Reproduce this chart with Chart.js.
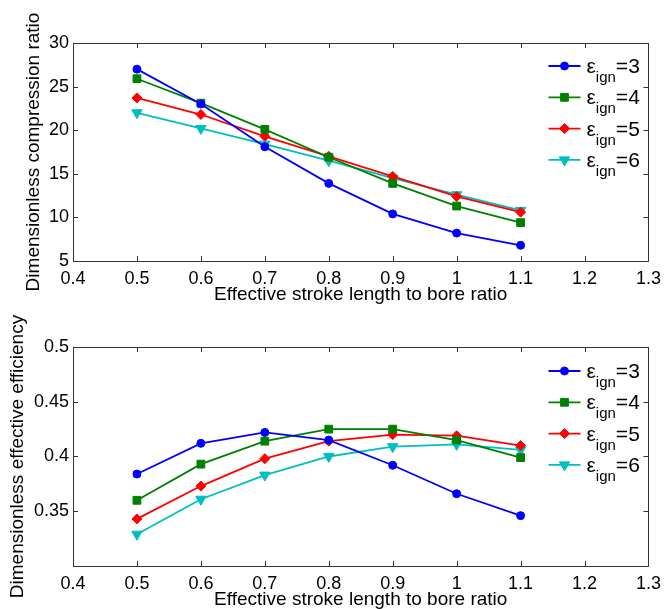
<!DOCTYPE html>
<html>
<head>
<meta charset="utf-8">
<script src="https://cdn.jsdelivr.net/npm/chart.js@4.4.0/dist/chart.umd.min.js"></script>
<style>
  body { margin: 0; background: #fff; }
  #wrap { position: relative; width: 668px; height: 609px; }
  #top-canvas { position: absolute; left: 0; top: 0; }
  #bottom-canvas { position: absolute; left: 0; top: 300px; }
</style>
</head>
<body>
<div id="wrap">
  <canvas id="top-canvas" width="668" height="310"></canvas>
  <canvas id="bottom-canvas" width="668" height="309"></canvas>
</div>
<script>
// stroke/bore ratio on the x axis
var strokeRatio = [0.5, 0.6, 0.7, 0.8, 0.9, 1.0, 1.1];
// eps_ign values of the four series
var epsIgn = ['3', '4', '5', '6'];

// top plot: dimensionless compression ratio
var compEps3 = [27.0, 23.0, 18.1, 13.9, 10.4, 8.2, 6.8];
var compEps4 = [25.9, 23.1, 20.1, 16.9, 13.9, 11.3, 9.4];
var compEps5 = [23.7, 21.8, 19.3, 17.0, 14.7, 12.4, 10.6];
var compEps6 = [22.0, 20.2, 18.4, 16.5, 14.5, 12.6, 10.8];

// bottom plot: dimensionless effective efficiency
var effEps3 = [0.384, 0.412, 0.422, 0.415, 0.392, 0.366, 0.346];
var effEps4 = [0.360, 0.393, 0.414, 0.425, 0.425, 0.415, 0.399];
var effEps5 = [0.343, 0.373, 0.398, 0.414, 0.420, 0.419, 0.410];
var effEps6 = [0.329, 0.361, 0.383, 0.400, 0.409, 0.411, 0.406];

var colors = ['#0000ff', '#008000', '#ff0000', '#00bfbf'];
var styles = [
  {pointStyle: 'circle', radius: 4, rotation: 0},
  {pointStyle: 'rect', radius: 5.5, rotation: 0},
  {pointStyle: 'rectRot', radius: 5, rotation: 0},
  {pointStyle: 'triangle', radius: 6, rotation: 180}
];
var fontFam = "'Liberation Sans', Arial, sans-serif";

function makeSets(seriesList) {
  return seriesList.map(function (vals, i) {
    return {
      label: epsIgn[i],
      data: vals.map(function (v, k) { return {x: strokeRatio[k], y: v}; }),
      borderColor: colors[i],
      backgroundColor: colors[i],
      borderWidth: 1.8,
      pointStyle: styles[i].pointStyle,
      pointRadius: styles[i].radius,
      pointRotation: styles[i].rotation,
      pointBorderWidth: 1,
      tension: 0
    };
  });
}

// box round the axes with inward ticks, like matlab
var framePlugin = {
  id: 'frame',
  afterDraw: function (chart) {
    var ctx = chart.ctx, a = chart.chartArea;
    var xs = chart.scales.x, ys = chart.scales.y;
    ctx.save();
    ctx.strokeStyle = '#333333';
    ctx.lineWidth = 1;
    ctx.beginPath();
    ctx.rect(Math.round(a.left) + 0.5, Math.round(a.top) + 0.5,
             Math.round(a.right - a.left), Math.round(a.bottom - a.top));
    xs.ticks.forEach(function (t) {
      var px = Math.round(xs.getPixelForValue(t.value)) + 0.5;
      ctx.moveTo(px, a.bottom); ctx.lineTo(px, a.bottom - 5);
      ctx.moveTo(px, a.top); ctx.lineTo(px, a.top + 5);
    });
    ys.ticks.forEach(function (t) {
      var py = Math.round(ys.getPixelForValue(t.value)) + 0.5;
      ctx.moveTo(a.left, py); ctx.lineTo(a.left + 5, py);
      ctx.moveTo(a.right, py); ctx.lineTo(a.right - 5, py);
    });
    ctx.stroke();
    ctx.restore();
  }
};

// legend with subscripted epsilon
var legendPlugin = {
  id: 'epsLegend',
  afterDraw: function (chart, args, opts) {
    var ctx = chart.ctx, a = chart.chartArea;
    var x0 = a.right - 100, x1 = a.right - 68;
    chart.data.datasets.forEach(function (ds, i) {
      var y = a.top + opts.firstRow + i * 31.3;
      ctx.save();
      ctx.strokeStyle = ds.borderColor;
      ctx.lineWidth = 1.8;
      ctx.beginPath(); ctx.moveTo(x0, y); ctx.lineTo(x1, y); ctx.stroke();
      ctx.fillStyle = ds.backgroundColor;
      ctx.lineWidth = 1;
      Chart.helpers.drawPoint(ctx, {pointStyle: ds.pointStyle, radius: ds.pointRadius,
        rotation: ds.pointRotation, borderWidth: 1}, (x0 + x1) / 2, y);
      ctx.fillStyle = '#000';
      ctx.textBaseline = 'alphabetic';
      ctx.textAlign = 'left';
      var tx = x1 + 6, base = y + 7;
      ctx.font = '21px ' + fontFam;
      ctx.fillText('\u03b5', tx, base);
      tx += ctx.measureText('\u03b5').width;
      ctx.font = '15px ' + fontFam;
      ctx.fillText('ign', tx, base + 9);
      tx += ctx.measureText('ign').width;
      ctx.font = '21px ' + fontFam;
      ctx.fillText('=' + ds.label, tx, base);
      ctx.restore();
    });
  }
};

function fmt(v) { return String(Number(v.toFixed(3))); }

function makeOptions(cfg) {
  return {
    responsive: false,
    animation: false,
    layout: {padding: {left: 0, right: 15, top: cfg.top, bottom: 0}},
    plugins: {
      legend: {display: false},
      tooltip: {enabled: false},
      epsLegend: {firstRow: cfg.firstRow}
    },
    scales: {
      x: {
        type: 'linear', min: 0.4, max: 1.3,
        afterFit: function (s) { s.height = cfg.xHeight; },
        grid: {display: false, drawTicks: false},
        border: {display: false},
        ticks: {stepSize: 0.1, padding: 7, color: '#000',
                font: {family: fontFam, size: 18},
                callback: function (v) { return fmt(v); }},
        title: {display: true, text: 'Effective stroke length to bore ratio', color: '#000',
                font: {family: fontFam, size: 19}, padding: {top: 0, bottom: cfg.xTitlePad}}
      },
      y: {
        type: 'linear', min: cfg.ymin, max: cfg.ymax,
        afterFit: function (s) { s.width = 73; },
        grid: {display: false, drawTicks: false},
        border: {display: false},
        ticks: {stepSize: cfg.ystep, padding: 4, color: '#000',
                font: {family: fontFam, size: 18},
                callback: function (v) { return cfg.hideMin && Math.abs(v - cfg.ymin) < 1e-9 ? '' : fmt(v); }},
        title: {display: true, text: cfg.ytitle, color: '#000',
                font: {family: fontFam, size: 19}, padding: {top: cfg.yTitlePad, bottom: 0}}
      }
    }
  };
}

new Chart(document.getElementById('top-canvas').getContext('2d'), {
  type: 'line',
  data: {datasets: makeSets([compEps3, compEps4, compEps5, compEps6])},
  options: makeOptions({top: 43, xHeight: 49, ymin: 5, ymax: 30, ystep: 5, hideMin: false,
    ytitle: 'Dimensionless compression ratio', yTitlePad: 22, xTitlePad: 4, firstRow: 23}),
  plugins: [framePlugin, legendPlugin]
});

new Chart(document.getElementById('bottom-canvas').getContext('2d'), {
  type: 'line',
  data: {datasets: makeSets([effEps3, effEps4, effEps5, effEps6])},
  options: makeOptions({top: 47, xHeight: 43, ymin: 0.3, ymax: 0.5, ystep: 0.05, hideMin: true,
    ytitle: 'Dimensionless effective efficiency', yTitlePad: 6, xTitlePad: -2, firstRow: 24}),
  plugins: [framePlugin, legendPlugin]
});
</script>
</body>
</html>
